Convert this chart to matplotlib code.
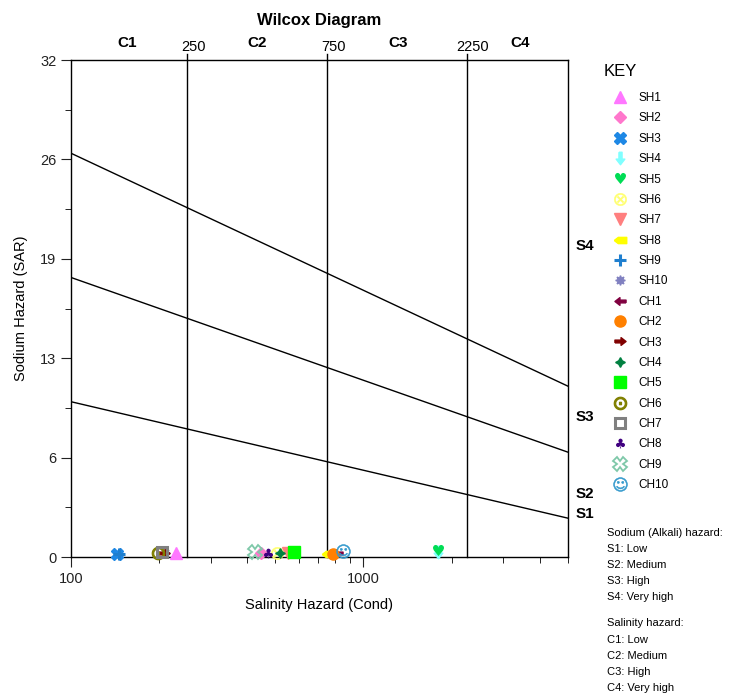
import matplotlib.pyplot as plt
import numpy as np
from matplotlib.ticker import FixedLocator, NullFormatter, LogLocator
from matplotlib.transforms import blended_transform_factory

plt.rcParams['font.family'] = ['Liberation Sans', 'DejaVu Sans']

#------Dados------#
samples = ['SH1', 'SH2', 'SH3', 'SH4', 'SH5', 'SH6', 'SH7', 'SH8', 'SH9', 'SH10',
           'CH1', 'CH2', 'CH3', 'CH4', 'CH5', 'CH6', 'CH7', 'CH8', 'CH9', 'CH10']
cond = [228, 448, 144, 1800, 1800, 505, 552, 757, 146, 209,
        811, 789, 208, 520, 578, 198, 204, 470, 425, 853]
sar = [0.25, 0.25, 0.2, 0.35, 0.45, 0.25, 0.25, 0.2, 0.2, 0.25,
       0.25, 0.2, 0.25, 0.25, 0.3, 0.25, 0.3, 0.25, 0.3, 0.4]

line_x = [100, 5000]
line_s3s4 = [26, 11]
line_s2s3 = [18, 6.75]
line_s1s2 = [10, 2.5]
c_bounds = [250, 750, 2250]

ytick_vals = [0, 6.4, 12.8, 19.2, 25.6, 32]
ytick_labels = ['0', '6', '13', '19', '26', '32']

#------Formas dos marcadores------#
arrow_r = [(-1, -0.25), (0.1, -0.25), (0.1, -0.7), (1, 0), (0.1, 0.7), (0.1, 0.25), (-1, 0.25), (-1, -0.25)]
arrow_l = [(-x, y) for x, y in arrow_r]
arrow_d = [(y, -x) for x, y in arrow_r]
plate_l = [(-1, 0), (-0.35, 0.5), (1, 0.5), (1, -0.5), (-0.35, -0.5), (-1, 0)]

styles = [
    dict(marker='^', color='#ff77ff', ms=8.5),
    dict(marker='D', color='#ff77cc', ms=6),
    dict(marker='X', color='#1e88e5', ms=8),
    dict(marker=arrow_d, color='#80ffff', ms=9),
    dict(marker='$\u2665$', color='#00dd55', ms=8, mew=0),
    dict(marker='$\\otimes$', color='#ffff70', ms=9, mew=0.3),
    dict(marker='v', color='#ff7f7f', ms=8.5),
    dict(marker=plate_l, color='#ffff00', ms=9),
    dict(marker='+', color='#1f7fcf', ms=9, mew=2.2),
    dict(marker=(8, 1, 0), color='#8080c0', ms=7),
    dict(marker=arrow_l, color='#800040', ms=8),
    dict(marker='o', color='#ff8000', ms=8),
    dict(marker=arrow_r, color='#800000', ms=8),
    dict(marker=(4, 1, 0), color='#008040', ms=7),
    dict(marker='s', color='#00ff00', ms=8),
    dict(marker='$\\odot$', color='#808000', ms=9, mew=0.9),
    dict(marker='s', color='#808080', ms=7, mfc='none', mew=2.2),
    dict(marker='$\u2663$', color='#400080', ms=7, mew=0),
    dict(marker='X', color='#7fc8a9', ms=10, mfc='none', mew=1.3),
    dict(marker='$\u263a$', color='#3399cc', ms=10, mew=0.4),
]

fig = plt.figure(figsize=(7.47, 6.94), dpi=100)
ax = fig.add_axes([0.095, 0.1974, 0.6653, 0.7161])

# Linhas de classificação
for s in [line_s3s4, line_s2s3, line_s1s2]:
    ax.plot(line_x, s, color='black', lw=1)
for c in c_bounds:
    ax.plot([c, c], [0, 32.4], color='black', lw=1, clip_on=False)

# Amostras
handles = []
for name, x, y, st in zip(samples, cond, sar, styles):
    st = dict(st)
    color = st.pop('color')
    kw = dict(mec=color, mfc=st.pop('mfc', color), mew=st.pop('mew', 1))
    h, = ax.plot(x, y, linestyle='none', color=color, label=name, clip_on=False, zorder=3, **kw, **st)
    handles.append(h)

ax.set_xscale('log')
ax.set_xlim(100, 5000)
ax.set_ylim(0, 32)
ax.xaxis.set_major_locator(FixedLocator([100, 1000]))
ax.xaxis.set_major_formatter(plt.FixedFormatter(['100', '1000']))
ax.xaxis.set_minor_locator(LogLocator(subs=np.arange(2, 10)))
ax.xaxis.set_minor_formatter(NullFormatter())
ax.set_yticks(ytick_vals)
ax.set_yticklabels(ytick_labels)
ax.yaxis.set_minor_locator(FixedLocator([3.2, 9.6, 16, 22.4, 28.8]))
ax.tick_params(which='major', direction='out', length=7, labelsize=10.5, colors='#222222')
ax.tick_params(which='minor', direction='out', length=4)
for sp in ax.spines.values():
    sp.set_linewidth(1)

ax.set_xlabel('Salinity Hazard (Cond)', fontsize=10.5, labelpad=9)
ax.set_ylabel('Sodium Hazard (SAR)', fontsize=10.5, labelpad=9)

# Rótulos C e S
tr = blended_transform_factory(ax.transData, ax.transAxes)
for lab, x in zip(['C1', 'C2', 'C3', 'C4'], [156, 434, 1310, 3420]):
    ax.text(x, 1.021, lab, transform=tr, ha='center', va='bottom', fontsize=11, fontweight='bold')
for c in c_bounds:
    ax.text(c * 1.05, 1.013, str(c), transform=tr, ha='center', va='bottom', fontsize=10.5)

tr2 = blended_transform_factory(ax.transAxes, ax.transData)
for lab, y in zip(['S4', 'S3', 'S2', 'S1'], [20.0, 9.0, 4.06, 2.77]):
    ax.text(1.015, y, lab, transform=tr2, ha='left', va='center', fontsize=11, fontweight='bold')

fig.text(319 / 747, 1 - 21 / 694, 'Wilcox Diagram', ha='center', va='center', fontsize=12, fontweight='bold')

# Legenda
fig.text(604 / 747, 1 - 71 / 694, 'KEY', ha='left', va='center', fontsize=12)
leg = fig.legend(handles=handles, loc='upper left', bbox_to_anchor=(608 / 747, 1 - 92 / 694),
                 frameon=False, fontsize=8.5, labelspacing=0.71, handletextpad=0.6,
                 borderpad=0, borderaxespad=0)

# Texto explicativo
notes = ['Sodium (Alkali) hazard:', 'S1: Low', 'S2: Medium', 'S3: High', 'S4: Very high',
         'Salinity hazard:', 'C1: Low', 'C2: Medium', 'C3: High', 'C4: Very high']
ys = [533, 549, 565, 581, 597, 623, 640, 656, 672, 688]
for t, y in zip(notes, ys):
    fig.text(607 / 747, 1 - y / 694, t, ha='left', va='center', fontsize=8)

fig.savefig('out.png', dpi=100)
